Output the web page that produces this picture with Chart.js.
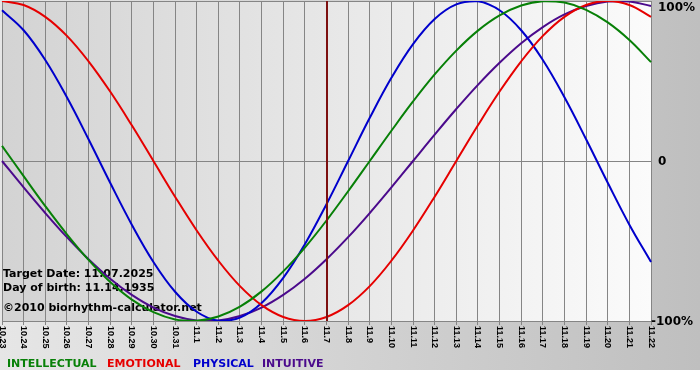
<!DOCTYPE html>
<html>
<head>
<meta charset="utf-8">
<script src="https://cdn.jsdelivr.net/npm/chart.js@4/dist/chart.umd.min.js"></script>
<style>
  html, body { margin: 0; padding: 0; background: #fff; }
  #wrap { width: 700px; height: 370px; }
</style>
</head>
<body>
<div id="wrap"><canvas id="bio" width="700" height="370"></canvas></div>
<script>
// data (percent)
const dates = ['10.23','10.24','10.25','10.26','10.27','10.28','10.29','10.30','10.31',
  '11.1','11.2','11.3','11.4','11.5','11.6','11.7','11.8','11.9','11.10','11.11','11.12',
  '11.13','11.14','11.15','11.16','11.17','11.18','11.19','11.20','11.21','11.22'];
const intellectual = [9.5,-9.5,-28.2,-45.8,-61.8,-75.6,-86.6,-94.5,-99.0,-99.9,-97.2,-91.0,-81.5,-69.0,-54.1,-37.2,
  -18.9,0,18.9,37.2,54.1,69.0,81.5,91.0,97.2,99.9,99.0,94.5,86.6,75.6,61.8];
const emotional = [100,97.5,90.1,78.2,62.3,43.4,22.3,0,-22.3,-43.4,-62.3,-78.2,-90.1,-97.5,-100,-97.5,
  -90.1,-78.2,-62.3,-43.4,-22.3,0,22.3,43.4,62.3,78.2,90.1,97.5,100,97.5,90.1];
const physical = [94.2,81.7,63.1,39.8,13.6,-13.6,-39.8,-63.1,-81.7,-94.2,-99.8,-97.9,-88.8,-73.1,-52.0,-27.0,
  0,27.0,52.0,73.1,88.8,97.9,99.8,94.2,81.7,63.1,39.8,13.6,-13.6,-39.8,-63.1];
const intuitive = [0,-16.5,-32.5,-47.6,-61.4,-73.6,-83.7,-91.6,-96.9,-99.7,-99.7,-96.9,-91.6,-83.7,-73.6,-61.4,
  -47.6,-32.5,-16.5,0,16.5,32.5,47.6,61.4,73.6,83.7,91.6,96.9,99.7,99.7,96.9];
const yTicks = [100, 0, -100];
const yTickLabels = ['100%', '0', '-100%'];
const targetDate = '11.7';
const infoLines = ['Target Date: 11.07.2025', 'Day of birth: 11.14.1935', '\u00a92010 biorhythm-calculator.net'];
const seriesNames = ['INTELLECTUAL', 'EMOTIONAL', 'PHYSICAL', 'INTUITIVE'];
const seriesColors = ['#078007', '#e60000', '#0000cc', '#4b0a8c'];

const BOLD = 'bold 11px "DejaVu Sans"';

// backgrounds: grey frame + light plot gradient
const bgPlugin = {
  id: 'bg',
  beforeDraw(chart) {
    const { ctx, chartArea: a, width, height } = chart;
    ctx.save();
    let g = ctx.createLinearGradient(0, 0, width, 0);
    g.addColorStop(0, '#e6e6e6'); g.addColorStop(1, '#bfbfbf');
    ctx.fillStyle = g; ctx.fillRect(0, 0, width, height);
    g = ctx.createLinearGradient(a.left, 0, a.right, 0);
    g.addColorStop(0, '#d3d3d3'); g.addColorStop(1, '#fbfbfb');
    ctx.fillStyle = g; ctx.fillRect(a.left, a.top, a.right - a.left, a.bottom - a.top);
    ctx.restore();
  },
  beforeDatasetsDraw(chart) {
    const { ctx } = chart;
    ctx.save();
    ctx.font = BOLD; ctx.fillStyle = '#000'; ctx.textBaseline = 'alphabetic';
    ctx.fillText(infoLines[0], 3, 277);
    ctx.fillText(infoLines[1], 3, 291);
    ctx.fillText(infoLines[2], 3, 311);
    ctx.restore();
  },
  afterDatasetsDraw(chart) {
    const { ctx, chartArea: a, scales: { x, y } } = chart;
    ctx.save();
    // target date marker
    const tx = Math.round(x.getPixelForValue(dates.indexOf(targetDate)));
    ctx.strokeStyle = '#7d1010'; ctx.lineWidth = 2;
    ctx.beginPath(); ctx.moveTo(tx, a.top); ctx.lineTo(tx, a.bottom); ctx.stroke();

    // x labels, rotated clockwise
    ctx.font = 'bold 9px "Liberation Sans"'; ctx.fillStyle = '#000';
    ctx.textAlign = 'left'; ctx.textBaseline = 'middle';
    dates.forEach((d, i) => {
      const px = x.getPixelForValue(i);
      ctx.save(); ctx.translate(px, a.bottom + 5); ctx.rotate(Math.PI / 2);
      ctx.fillText(d, 0, 0); ctx.restore();
    });

    // y labels on the right
    ctx.font = 'bold 12px "DejaVu Sans"'; ctx.textBaseline = 'middle';
    yTicks.forEach((v, i) => {
      let py = y.getPixelForValue(v);
      if (v === 100) py += 6;
      ctx.fillText(yTickLabels[i], v < 0 ? 651 : 658, py + 1);
    });

    // legend line at the bottom
    ctx.font = BOLD; ctx.textBaseline = 'alphabetic';
    const lx = [7, 107, 193, 262];
    seriesNames.forEach((n, i) => { ctx.fillStyle = seriesColors[i]; ctx.fillText(n, lx[i], 367); });
    ctx.restore();
  }
};

const mk = (label, data, color) => ({ label, data, borderColor: color, borderWidth: 2, pointRadius: 0, tension: 0.4, fill: false });

new Chart(document.getElementById('bio'), {
  type: 'line',
  data: {
    labels: dates,
    datasets: [
      mk(seriesNames[0], intellectual, seriesColors[0]),
      mk(seriesNames[1], emotional, seriesColors[1]),
      mk(seriesNames[2], physical, seriesColors[2]),
      mk(seriesNames[3], intuitive, seriesColors[3])
    ]
  },
  options: {
    responsive: false,
    animation: false,
    layout: { padding: { left: 2, top: 1, right: 0, bottom: 0 } },
    plugins: { legend: { display: false }, tooltip: { enabled: false } },
    scales: {
      x: {
        offset: false,
        grid: { color: '#858585', lineWidth: 1, drawTicks: true, tickLength: 4, tickColor: '#858585' },
        border: { display: true, color: '#858585' },
        ticks: { display: false, autoSkip: false },
        afterFit(s) { s.height = 49; }
      },
      y: {
        position: 'right', min: -100, max: 100,
        afterBuildTicks(s) { s.ticks = yTicks.map(v => ({ value: v })); },
        grid: { color: '#858585', drawTicks: false },
        border: { display: false },
        ticks: { display: false },
        afterFit(s) { s.width = 49; }
      }
    }
  },
  plugins: [bgPlugin]
});
</script>
</body>
</html>
